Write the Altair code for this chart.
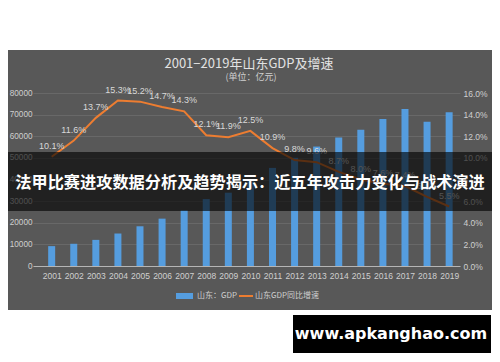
import altair as alt
import pandas as pd

years = list(range(2001, 2020))
gdp = [9195, 10275, 12078, 15022, 18367, 21900, 25777, 30933, 33897, 39170,
       45362, 50013, 55230, 59427, 63002, 68024, 72634, 66649, 71068]
growth = [10.1, 11.6, 13.7, 15.3, 15.2, 14.7, 14.3, 12.1, 11.9, 12.5,
          10.9, 9.8, 9.6, 8.7, 8.0, 7.6, 7.4, 6.4, 5.5]
growth_labels = [f"{g:.1f}%" for g in growth]
gdp_ticks = list(range(0, 80001, 10000))
pct_ticks = list(range(0, 17, 2))

title_text = "2001−2019年山东GDP及增速"
subtitle_text = "(单位：亿元)"
legend_gdp = "山东：GDP"
legend_growth = "山东GDP同比增速"
banner_text = "法甲比赛进攻数据分析及趋势揭示：近五年攻击力变化与战术演进"
watermark_text = "www.apkanghao.com"

df = pd.DataFrame({"year": years, "gdp": gdp, "growth": growth, "label": growth_labels})

FONT = "Liberation Sans"
CJK = "Noto Sans CJK SC"
LABEL = "#cfcfcf"

xscale = alt.Scale(domain=[2000.381, 2019.265], nice=False, zero=False)
xaxis = alt.Axis(values=years, format="d", grid=False, ticks=False, domainColor="#b5b5b5",
                 labelColor=LABEL, labelFontSize=8.5, labelFont=FONT, labelPadding=5,
                 labelFlush=False, labelOverlap=False, labelBound=False, title=None)

pct_scale = alt.Scale(domain=[0, 16], nice=False)
raxis = alt.Axis(orient="right", values=pct_ticks,
                 labelExpr="format(datum.value, '.1f') + '%'",
                 grid=False, domain=False, ticks=False, labelColor=LABEL,
                 labelFontSize=8.5, labelFont=FONT, labelPadding=3, title=None,
                 labelOverlap=False)

base = alt.Chart(df)

bars = base.mark_bar(size=7, color="#559ddf").encode(
    x=alt.X("year:Q", scale=xscale, axis=xaxis),
    y=alt.Y("gdp:Q", scale=alt.Scale(domain=[0, 80000], nice=False),
            axis=alt.Axis(values=gdp_ticks, format="d", grid=True, gridColor="#686868",
                          domain=False, ticks=False, labelColor=LABEL, labelFontSize=8.2,
                          labelFont=FONT, labelPadding=1, title=None, labelOverlap=False)),
)

line = base.mark_line(color="#ed7d31", strokeWidth=2).encode(
    x=alt.X("year:Q", scale=xscale, axis=xaxis),
    y=alt.Y("growth:Q", scale=pct_scale, axis=raxis),
)
line_labels = base.mark_text(dy=-11, fontSize=9, font=FONT, color="#d8d8d8").encode(
    x=alt.X("year:Q", scale=xscale, axis=xaxis),
    y=alt.Y("growth:Q", scale=pct_scale, axis=raxis),
    text="label:N",
)

one = alt.Data(values=[{"k": 1}])

def rect(x, x2, y, y2, color, opacity=1.0):
    return alt.Chart(one).mark_rect(color=color, opacity=opacity).encode(
        x=alt.value(x), x2=alt.value(x2), y=alt.value(y), y2=alt.value(y2))

def text(x, y, s, size, color, font=CJK, weight="normal", align="center"):
    return alt.Chart(one).mark_text(text=s, fontSize=size, color=color, font=font,
                                    fontWeight=weight, align=align, baseline="middle").encode(
        x=alt.value(x), y=alt.value(y))

top_white = rect(-40, 480, -100, -43, "white")
bottom_white = rect(-40, 480, 217, 280, "white")
title = text(216, -29, title_text, 13, "#e2e2e2")
subtitle = text(218, -16, subtitle_text, 9, "#d0d0d0")

leg_rect = rect(143, 160, 200, 206, "#559ddf")
leg_t1 = text(164, 203, legend_gdp, 8, LABEL, align="left")
leg_line = rect(206, 220, 202, 204, "#ed7d31")
leg_t2 = text(222, 203, legend_growth, 8, LABEL, align="left")

banner = rect(-40, 480, 59, 118, "#000000", 0.62)
banner_t = text(217, 90, banner_text, 16.2, "white", weight="bold")

wm_box = rect(260, 458, 222, 260, "#000000")
wm_t = text(358, 241, watermark_text, 16, "white", font="DejaVu Sans", weight="bold")

growth_layer = alt.layer(line, line_labels)
main = alt.layer(bars, growth_layer).resolve_scale(y="independent")

chart = alt.layer(
    main, top_white, bottom_white, title, subtitle,
    leg_rect, leg_t1, leg_line, leg_t2, banner, banner_t, wm_box, wm_t,
).properties(
    width=427, height=173,
    autosize=alt.AutoSizeParams(type="none"),
    padding={"left": 25, "top": 85, "right": 32, "bottom": 88},
    background="#585858",
).configure_view(stroke=None)

chart.save("out.html", embed_options={"renderer": "svg", "actions": False})
